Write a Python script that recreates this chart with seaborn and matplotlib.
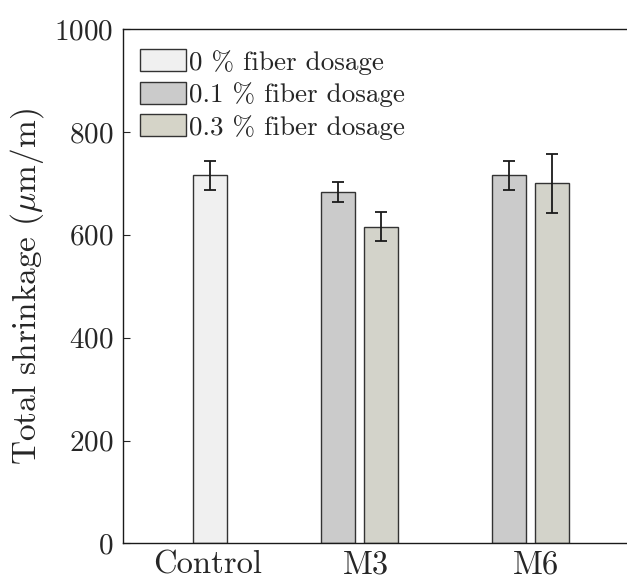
import matplotlib
matplotlib.use('Agg')
import matplotlib.pyplot as plt
from matplotlib.patches import Patch
import numpy as np
import pandas as pd
import seaborn as sns

# --- data --- #
groups = ['Control', 'M3', 'M6']
dosages = ['0 % fiber dosage', '0.1 % fiber dosage', '0.3 % fiber dosage']
bar_group = ['Control', 'M3', 'M3', 'M6', 'M6']
bar_dosage = ['0 % fiber dosage', '0.1 % fiber dosage', '0.3 % fiber dosage',
              '0.1 % fiber dosage', '0.3 % fiber dosage']
shrinkage = [716, 683, 616, 716, 700]
shrinkage_err = [28, 20, 28, 28, 58]

colors = ['#f0f0f0', '#cbcbcb', '#d5d4c8']

sns.set_theme(style='ticks')
plt.rcParams['font.family'] = ['cmr10']
plt.rcParams['mathtext.fontset'] = 'cm'
plt.rcParams['axes.formatter.use_mathtext'] = True
plt.rcParams['axes.unicode_minus'] = False

# bar centre = group index + side offset (control sits on the right slot)
offset = {'0 % fiber dosage': 0.125, '0.1 % fiber dosage': -0.125, '0.3 % fiber dosage': 0.125}
pos = [groups.index(g) + offset[d] for g, d in zip(bar_group, bar_dosage)]

df = pd.DataFrame({'pos': pos, 'value': shrinkage, 'err': shrinkage_err, 'dosage': bar_dosage})

fig = plt.figure(figsize=(6.27, 5.78), dpi=100)
ax = fig.add_axes([0.196, 0.0597, 0.804, 0.8901])

sns.barplot(data=df, x='pos', y='value', hue='dosage', hue_order=dosages,
            palette=colors, native_scale=True, dodge=False, width=0.8,
            errorbar=None, edgecolor='#333333', linewidth=1.0, legend=False, ax=ax)

ax.errorbar(df['pos'], df['value'], yerr=df['err'], fmt='none', ecolor='#1a1a1a',
            elinewidth=1.3, capsize=4.2, capthick=1.3)

ax.set_xlim(-0.383, 2.564)
ax.set_ylim(0, 1000)
ax.set_yticks(np.arange(0, 1001, 200))
ax.set_xticks([0.114, 1.035, 2.032])
ax.set_xticklabels(groups, fontsize=23.5)
ax.tick_params(axis='x', length=0, pad=5)
ax.tick_params(axis='y', direction='in', length=5, width=0.8, pad=7, labelsize=21)
ax.set_xlabel('')
ax.set_ylabel(r'Total shrinkage ($\mu$m/m)', fontsize=24, labelpad=6)

for side in ['left', 'bottom', 'top']:
    ax.spines[side].set_visible(True)
    ax.spines[side].set_color('#1a1a1a')
    ax.spines[side].set_linewidth(1.0)
ax.spines['right'].set_visible(False)

handles = [Patch(facecolor=c, edgecolor='#333333', linewidth=1.0) for c in colors]
ax.legend(handles, dosages, loc='upper left', bbox_to_anchor=(140 / 627, 1 - 49 / 578),
          bbox_transform=fig.transFigure, frameon=False, fontsize=19.5,
          handlelength=1.7, handleheight=0.89, handletextpad=0.12,
          labelspacing=0.26, borderpad=0, borderaxespad=0)

fig.savefig('out.png', dpi=100)
